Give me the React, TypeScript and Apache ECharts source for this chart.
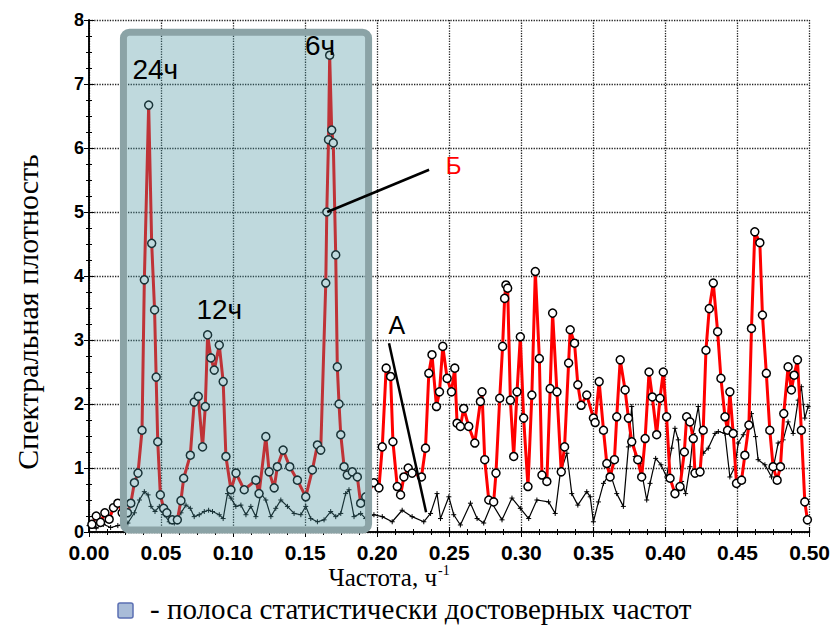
import React, { useEffect, useRef } from "react";
import * as echarts from "echarts";

// Spectrum Б (red) : [frequency, density]
const spectrumB: number[][] = [
  [0.002, 0.12], [0.005, 0.25], [0.008, 0.15], [0.011, 0.3], [0.014, 0.2], [0.017, 0.38], [0.02, 0.45], [0.023, 0.3],
  [0.0267, 0.3], [0.029, 0.45], [0.0315, 0.77], [0.034, 0.92], [0.0368, 1.59], [0.0384, 3.94], [0.0414, 6.67],
  [0.0435, 4.51], [0.0455, 3.47], [0.0466, 2.42], [0.0477, 1.41], [0.0495, 0.58], [0.0518, 0.37], [0.054, 0.3],
  [0.0578, 0.19], [0.0613, 0.19], [0.0638, 0.49], [0.0657, 0.84], [0.0703, 1.2], [0.073, 2.03], [0.0758, 2.12],
  [0.0788, 1.33], [0.0807, 1.96], [0.0823, 3.08], [0.0846, 2.72], [0.0869, 2.53], [0.0904, 2.92], [0.0931, 2.35],
  [0.095, 1.18], [0.0985, 0.66], [0.102, 0.92], [0.1077, 0.66], [0.1158, 0.81], [0.118, 0.6], [0.1227, 1.49],
  [0.125, 0.94], [0.1285, 0.69], [0.1307, 1.02], [0.1347, 1.28], [0.1393, 1.02], [0.1446, 0.81], [0.1504, 0.55],
  [0.155, 0.97], [0.1585, 1.36], [0.1608, 1.28], [0.1643, 3.89], [0.165, 5.0], [0.1662, 6.13], [0.167, 7.45],
  [0.1684, 6.28], [0.1695, 6.08], [0.1712, 4.33], [0.1723, 2.58], [0.1735, 2.0], [0.1747, 1.52], [0.177, 1.02],
  [0.1792, 0.89], [0.1827, 0.94], [0.1862, 0.86], [0.1885, 0.45], [0.192, 0.55], [0.1977, 0.77], [0.2012, 0.69],
  [0.2035, 1.33], [0.2062, 2.56], [0.2093, 2.43], [0.2109, 1.41], [0.2139, 0.71], [0.2162, 0.58], [0.2185, 0.86],
  [0.2215, 1.0], [0.2242, 0.92], [0.2307, 0.86], [0.2335, 1.31], [0.2358, 2.48], [0.238, 2.77], [0.2411, 1.96],
  [0.2432, 2.19], [0.2455, 2.9], [0.2485, 2.4], [0.2515, 2.19], [0.2538, 2.56], [0.2554, 1.7], [0.2577, 1.65],
  [0.26, 1.93], [0.2635, 1.65], [0.2677, 1.39], [0.2716, 2.04], [0.2727, 2.19], [0.2746, 1.13], [0.2774, 0.5],
  [0.2808, 0.47], [0.2824, 0.92], [0.285, 2.09], [0.287, 2.9], [0.2884, 3.65], [0.2893, 3.86], [0.2905, 3.81],
  [0.2924, 2.06], [0.2947, 1.18], [0.297, 2.19], [0.2993, 3.05], [0.3016, 1.78], [0.3046, 0.71], [0.3073, 2.14],
  [0.3097, 4.07], [0.3125, 2.71], [0.3143, 0.89], [0.3177, 0.79], [0.32, 2.24], [0.3217, 3.42], [0.3247, 2.19],
  [0.3277, 0.94], [0.33, 1.33], [0.3328, 2.64], [0.3339, 3.16], [0.3369, 2.95], [0.3392, 2.3], [0.3415, 1.98],
  [0.3454, 2.14], [0.35, 1.78], [0.3512, 1.71], [0.354, 2.35], [0.357, 1.59], [0.3593, 1.07], [0.3616, 0.86],
  [0.3646, 1.13], [0.3662, 1.8], [0.3686, 2.69], [0.372, 2.22], [0.3743, 1.78], [0.3766, 1.41], [0.3808, 1.13],
  [0.3835, 0.86], [0.3859, 1.46], [0.3886, 2.5], [0.3909, 2.11], [0.3939, 1.52], [0.3962, 2.09], [0.3985, 2.5],
  [0.4008, 1.8], [0.4032, 0.84], [0.4066, 0.6], [0.4101, 0.71], [0.4131, 1.25], [0.4147, 1.8], [0.417, 1.72],
  [0.4193, 1.46], [0.4205, 0.92], [0.424, 0.94], [0.4262, 1.59], [0.4281, 2.84], [0.4304, 3.49], [0.4332, 3.89],
  [0.4362, 3.13], [0.4385, 2.4], [0.4413, 1.8], [0.4431, 1.59], [0.4447, 2.19], [0.447, 1.54], [0.4493, 0.76],
  [0.4528, 0.81], [0.4551, 1.2], [0.4579, 1.67], [0.4597, 3.18], [0.462, 4.69], [0.4655, 4.52], [0.4673, 3.39],
  [0.47, 2.48], [0.4724, 1.59], [0.4747, 1.02], [0.4775, 0.81], [0.4798, 1.02], [0.4821, 1.85], [0.4851, 2.58],
  [0.4874, 2.22], [0.4893, 2.45], [0.4916, 2.69], [0.4943, 1.59], [0.4967, 0.47], [0.4985, 0.19],
];

// Spectrum A (black) : [frequency, density]
const spectrumA: number[][] = [
  [0, 0.1], [0.005, 0.06], [0.01, 0.12], [0.015, 0.07], [0.02, 0.1], [0.027, 0.14], [0.0315, 0.3], [0.035, 0.5],
  [0.0384, 0.63], [0.041, 0.58], [0.043, 0.4], [0.0458, 0.32], [0.0488, 0.4], [0.0523, 0.27], [0.0557, 0.16],
  [0.0592, 0.14], [0.0638, 0.3], [0.0673, 0.42], [0.0703, 0.37], [0.073, 0.24], [0.0765, 0.27], [0.08, 0.32],
  [0.083, 0.34], [0.0857, 0.32], [0.0904, 0.27], [0.0931, 0.21], [0.0961, 0.6], [0.0985, 0.53], [0.1019, 0.4],
  [0.1054, 0.42], [0.1089, 0.27], [0.1123, 0.4], [0.1158, 0.24], [0.1193, 0.6], [0.1227, 0.5], [0.1262, 0.24],
  [0.1296, 0.37], [0.1331, 0.5], [0.1377, 0.4], [0.1423, 0.29], [0.147, 0.27], [0.1504, 0.4], [0.1539, 0.21],
  [0.1585, 0.16], [0.1631, 0.19], [0.1677, 0.32], [0.1712, 0.24], [0.1747, 0.29], [0.1781, 0.6], [0.1804, 0.66],
  [0.1839, 0.24], [0.1885, 0.29], [0.192, 0.21], [0.1977, 0.27], [0.2035, 0.24], [0.2104, 0.16], [0.2173, 0.34],
  [0.2242, 0.24], [0.2323, 0.16], [0.237, 0.29], [0.2415, 0.6], [0.2439, 0.21], [0.2497, 0.55], [0.2531, 0.27],
  [0.2577, 0.11], [0.2647, 0.45], [0.2693, 0.21], [0.2739, 0.14], [0.2796, 0.45], [0.2866, 0.19], [0.2935, 0.53],
  [0.2993, 0.37], [0.3051, 0.21], [0.3108, 0.5], [0.3189, 0.47], [0.3235, 0.29], [0.327, 0.92], [0.3316, 1.23],
  [0.335, 0.6], [0.3392, 0.42], [0.3454, 0.63], [0.3478, 0.55], [0.35, 0.16], [0.3535, 0.47], [0.357, 0.76],
  [0.3616, 0.92], [0.3662, 0.6], [0.3708, 0.4], [0.3743, 1.33], [0.3766, 1.96], [0.379, 1.18], [0.3824, 1.07],
  [0.387, 0.5], [0.3893, 0.76], [0.3932, 1.15], [0.3969, 1.05], [0.4008, 0.86], [0.4043, 1.31], [0.4066, 1.62],
  [0.4089, 1.44], [0.4112, 0.79], [0.414, 0.6], [0.417, 1.02], [0.4193, 1.54], [0.4228, 1.96], [0.4262, 1.23],
  [0.4297, 1.31], [0.4344, 1.54], [0.4367, 1.57], [0.4413, 1.54], [0.4447, 0.86], [0.4482, 1.02], [0.4505, 1.39],
  [0.454, 1.52], [0.4574, 1.65], [0.4597, 1.85], [0.4625, 1.49], [0.4643, 1.13], [0.469, 1.05], [0.4736, 0.86],
  [0.4782, 1.39], [0.4817, 1.44], [0.4851, 1.72], [0.4886, 1.54], [0.4921, 2.06], [0.4943, 2.27], [0.4967, 1.78],
  [0.499, 1.96],
];

// Band of statistically significant frequencies: [freqFrom, densFrom, freqTo, densTo]
const band = [0.0239, 0.03, 0.194, 7.81];

// Peak labels: [freq, density, text]
const peakLabels: [number, number, string][] = [
  [0.046, 7.22, "24ч"],
  [0.1603, 7.6, "6ч"],
  [0.0904, 3.48, "12ч"],
];

// Pointer lines to the series
const pointerB = [[0.1653, 5.0], [0.236, 5.66]];
const pointerA = [[0.2082, 2.95], [0.2339, 0.31]];
const labelB: [number, number, string] = [0.2531, 5.72, "Б"];
const labelA: [number, number, string] = [0.2136, 3.23, "A"];

const xTicks = { min: 0, max: 0.5, interval: 0.05 };
const yTicks = { min: 0, max: 8, interval: 1 };

const tickFont = {
  fontFamily: "'Liberation Sans Narrow', 'Liberation Sans', Arial, sans-serif",
  fontWeight: "bold" as const,
  color: "#000",
};
const serif = "'Liberation Serif', 'Times New Roman', serif";
const sans = "'Liberation Sans', Arial, sans-serif";

export default function App() {
  const ref = useRef<HTMLDivElement>(null);
  useEffect(() => {
    if (!ref.current) return;
    const chart = echarts.init(ref.current, undefined, { renderer: "svg" });
    const axisLine = { show: true, lineStyle: { color: "#000", width: 1.5 } };
    const tick = { show: true, inside: true, length: 5, lineStyle: { color: "#000" } };
    const minor = { show: true, splitNumber: 4, length: 3, lineStyle: { color: "#000" } };
    const option: any = {
      animation: false,
      backgroundColor: "#fff",
      grid: { left: 89, right: 22, top: 20, bottom: 93 },
      xAxis: [
        {
          type: "value", ...xTicks, position: "bottom",
          axisLine,
          splitLine: { show: true, lineStyle: { color: "#222", type: "dotted", width: 1.3 } },
          axisTick: tick, minorTick: minor,
          axisLabel: { ...tickFont, fontSize: 21, margin: 10, formatter: (v: number) => v.toFixed(2) },
        },
        {
          type: "value", ...xTicks, position: "top",
          axisLine, splitLine: { show: false }, axisTick: tick, minorTick: minor,
          axisLabel: { show: false },
        },
      ],
      yAxis: [
        {
          type: "value", ...yTicks, position: "left",
          axisLine,
          splitLine: { show: true, lineStyle: { color: "#222", type: "dotted", width: 1.3 } },
          axisTick: tick, minorTick: minor,
          axisLabel: { ...tickFont, fontSize: 18, margin: 5 },
        },
        {
          type: "value", ...yTicks, position: "right",
          axisLine, splitLine: { show: false }, axisTick: tick, minorTick: minor,
          axisLabel: { show: false },
        },
      ],
      series: [
        {
          name: "A", type: "line", z: 3, data: spectrumA,
          symbol: "path://M0,-1V1M-1,0H1", symbolSize: 5,
          itemStyle: { color: "#000", borderColor: "#000", borderWidth: 1 },
          lineStyle: { color: "#000", width: 1.2 },
        },
        {
          name: "Б", type: "line", z: 4, data: spectrumB,
          symbol: "circle", symbolSize: 8,
          itemStyle: { color: "#fff", borderColor: "#000", borderWidth: 1.5 },
          lineStyle: { color: "#ff0000", width: 3 },
        },
        {
          name: "band", type: "custom", z: 10, silent: true,
          data: [band],
          renderItem: (_params: any, api: any) => {
            const p0 = api.coord([api.value(0), api.value(1)]);
            const p1 = api.coord([api.value(2), api.value(3)]);
            return {
              type: "rect",
              shape: { x: p0[0], y: p1[1], width: p1[0] - p0[0], height: p0[1] - p1[1], r: 6 },
              style: { fill: "rgba(72,145,157,0.35)", stroke: "#8ba3a6", lineWidth: 7 },
            };
          },
        },
        {
          name: "notes", type: "line", z: 20, data: [], silent: true,
          markLine: {
            silent: true, symbol: "none", z: 20,
            lineStyle: { color: "#000", width: 2.5, type: "solid" },
            label: { show: false },
            data: [
              [{ coord: pointerB[0] }, { coord: pointerB[1] }],
              [{ coord: pointerA[0] }, { coord: pointerA[1] }],
            ],
          },
          markPoint: {
            silent: true, symbol: "circle", symbolSize: 0, z: 20,
            data: [
              ...peakLabels.map((p) => ({
                coord: [p[0], p[1]], name: p[2],
                label: { show: true, formatter: p[2], color: "#000", fontSize: 28, fontFamily: sans },
              })),
              {
                coord: [labelB[0], labelB[1]], name: labelB[2],
                label: { show: true, formatter: labelB[2], color: "#ff0000", fontSize: 24, fontFamily: sans },
              },
              {
                coord: [labelA[0], labelA[1]], name: labelA[2],
                label: { show: true, formatter: labelA[2], color: "#000", fontSize: 25, fontFamily: sans },
              },
            ],
          },
        },
      ],
      graphic: [
        {
          type: "text", x: 27, y: 312, rotation: Math.PI / 2,
          style: {
            text: "Спектральная плотность", fill: "#000",
            font: "30px " + serif,
            align: "center", verticalAlign: "middle",
          },
        },
        {
          type: "text", x: 437, y: 577,
          style: {
            text: "Частота, ч", fill: "#000",
            font: "25px " + serif,
            align: "right", verticalAlign: "middle",
          },
        },
        {
          type: "text", x: 438, y: 570,
          style: {
            text: "-1", fill: "#000",
            font: "14px " + serif,
            align: "left", verticalAlign: "middle",
          },
        },
        {
          type: "rect", shape: { x: 118, y: 603, width: 15, height: 15, r: 2 },
          style: { fill: "#a9bcd8", stroke: "#5b6fb3", lineWidth: 1.5 },
        },
        {
          type: "text", x: 150, y: 609,
          style: {
            text: "- полоса статистически достоверных частот", fill: "#000",
            font: "29px " + serif,
            align: "left", verticalAlign: "middle",
          },
        },
      ],
    };
    chart.setOption(option);
    return () => chart.dispose();
  }, []);
  return <div ref={ref} style={{ width: 833, height: 625, position: "absolute", left: 0, top: 0 }} />;
}
